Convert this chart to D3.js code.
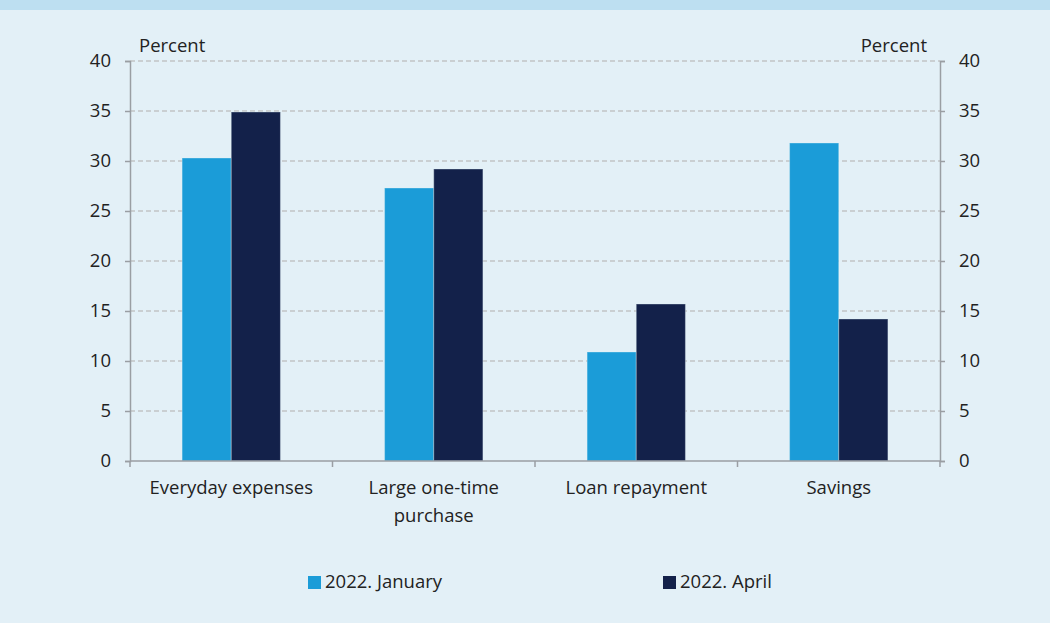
<!DOCTYPE html>
<html>
<head>
<meta charset="utf-8">
<script src="https://cdn.jsdelivr.net/npm/d3@7"></script>
<style>
  body { margin: 0; background: #e3f0f7; }
  svg { display: block; }
  text { font-family: "Open Sans", Lato, sans-serif; fill: #222; }
</style>
</head>
<body>
<script>
// chart data
var categories = ["Everyday expenses", "Large one-time\npurchase", "Loan repayment", "Savings"];
var seriesNames = ["2022. January", "2022. April"];
var january = [30.3, 27.3, 10.9, 31.8];
var april = [34.9, 29.2, 15.7, 14.2];
var yTicks = [0, 5, 10, 15, 20, 25, 30, 35, 40];
var colors = ["#1b9cd8", "#13214a"];

var width = 1050, height = 623;
var margin = {top: 61, right: 110, bottom: 162, left: 130};
var fontSize = "18.5px";

var svg = d3.select("body").append("svg")
    .attr("width", width)
    .attr("height", height);

// background + header band
svg.append("rect").attr("width", width).attr("height", height).attr("fill", "#e3f0f7");
svg.append("rect").attr("width", width).attr("height", 10).attr("fill", "#bddff1");

var x = d3.scaleBand()
    .domain(categories)
    .range([margin.left, width - margin.right]);

var x1 = d3.scaleBand()
    .domain(seriesNames)
    .range([0, x.bandwidth()])
    .paddingOuter(1.06);

var y = d3.scaleLinear()
    .domain([0, 40])
    .range([height - margin.bottom, margin.top]);

// gridlines
svg.append("g").selectAll("line")
    .data(yTicks.slice(1))
  .enter().append("line")
    .attr("x1", margin.left).attr("x2", width - margin.right)
    .attr("y1", function(d) { return y(d); })
    .attr("y2", function(d) { return y(d); })
    .attr("stroke", "#c2c4c6")
    .attr("stroke-width", 1.4)
    .attr("stroke-dasharray", "5,3");

// bars
var groups = svg.append("g").selectAll("g")
    .data(categories)
  .enter().append("g")
    .attr("transform", function(d) { return "translate(" + x(d) + ",0)"; });

groups.selectAll("rect")
    .data(function(d, i) {
      return [
        {key: seriesNames[0], value: january[i], c: colors[0]},
        {key: seriesNames[1], value: april[i], c: colors[1]}
      ];
    })
  .enter().append("rect")
    .attr("x", function(d) { return x1(d.key); })
    .attr("width", x1.bandwidth())
    .attr("y", function(d) { return y(d.value); })
    .attr("height", function(d) { return y(0) - y(d.value); })
    .attr("fill", function(d) { return d.c; })
    .attr("stroke", "#e3f0f7")
    .attr("stroke-opacity", 0.35)
    .attr("stroke-width", 1);

// axes
var yLeft = d3.axisLeft(y).tickValues(yTicks).tickSize(5).tickPadding(14);
var yRight = d3.axisRight(y).tickValues(yTicks).tickSize(5).tickPadding(14);

var gl = svg.append("g")
    .attr("transform", "translate(" + margin.left + ",0)")
    .call(yLeft);
var gr = svg.append("g")
    .attr("transform", "translate(" + (width - margin.right) + ",0)")
    .call(yRight);

[gl, gr].forEach(function(g) {
  g.select(".domain").attr("stroke", "#9a9ea3").attr("stroke-width", 1.5);
  g.selectAll(".tick line").attr("stroke", "#9a9ea3").attr("stroke-width", 1.5);
  g.selectAll(".tick text").style("font-size", fontSize).style("font-family", "'Open Sans', sans-serif").attr("fill", "#222");
});

// x axis line with boundary ticks
var xBounds = categories.map(function(d) { return x(d); }).concat([width - margin.right]);
svg.append("line")
    .attr("x1", margin.left).attr("x2", width - margin.right)
    .attr("y1", y(0)).attr("y2", y(0))
    .attr("stroke", "#9a9ea3").attr("stroke-width", 1.5);
svg.append("g").selectAll("line")
    .data(xBounds)
  .enter().append("line")
    .attr("x1", function(d) { return d; }).attr("x2", function(d) { return d; })
    .attr("y1", y(0)).attr("y2", y(0) + 6)
    .attr("stroke", "#9a9ea3").attr("stroke-width", 1.5);

// category labels
var labels = svg.append("g").selectAll("text")
    .data(categories)
  .enter().append("text")
    .attr("x", function(d) { return x(d) + x.bandwidth() / 2; })
    .attr("y", 494)
    .attr("text-anchor", "middle")
    .style("font-size", fontSize);
labels.selectAll("tspan")
    .data(function(d) { return d.split("\n"); })
  .enter().append("tspan")
    .attr("x", function() { return d3.select(this.parentNode).attr("x"); })
    .attr("dy", function(d, i) { return i === 0 ? 0 : 28; })
    .text(function(d) { return d; });

// unit labels
svg.append("text").attr("x", 139).attr("y", 52)
    .style("font-size", fontSize).text("Percent");
svg.append("text").attr("x", 927).attr("y", 52)
    .attr("text-anchor", "end")
    .style("font-size", fontSize).text("Percent");

// legend
var legendX = [308, 663];
var legend = svg.append("g").selectAll("g")
    .data(seriesNames)
  .enter().append("g")
    .attr("transform", function(d, i) { return "translate(" + legendX[i] + ",576)"; });
legend.append("rect")
    .attr("width", 13).attr("height", 13)
    .attr("fill", function(d, i) { return colors[i]; });
legend.append("text")
    .attr("x", 17).attr("y", 11.5)
    .style("font-size", fontSize)
    .text(function(d) { return d; });
</script>
</body>
</html>
